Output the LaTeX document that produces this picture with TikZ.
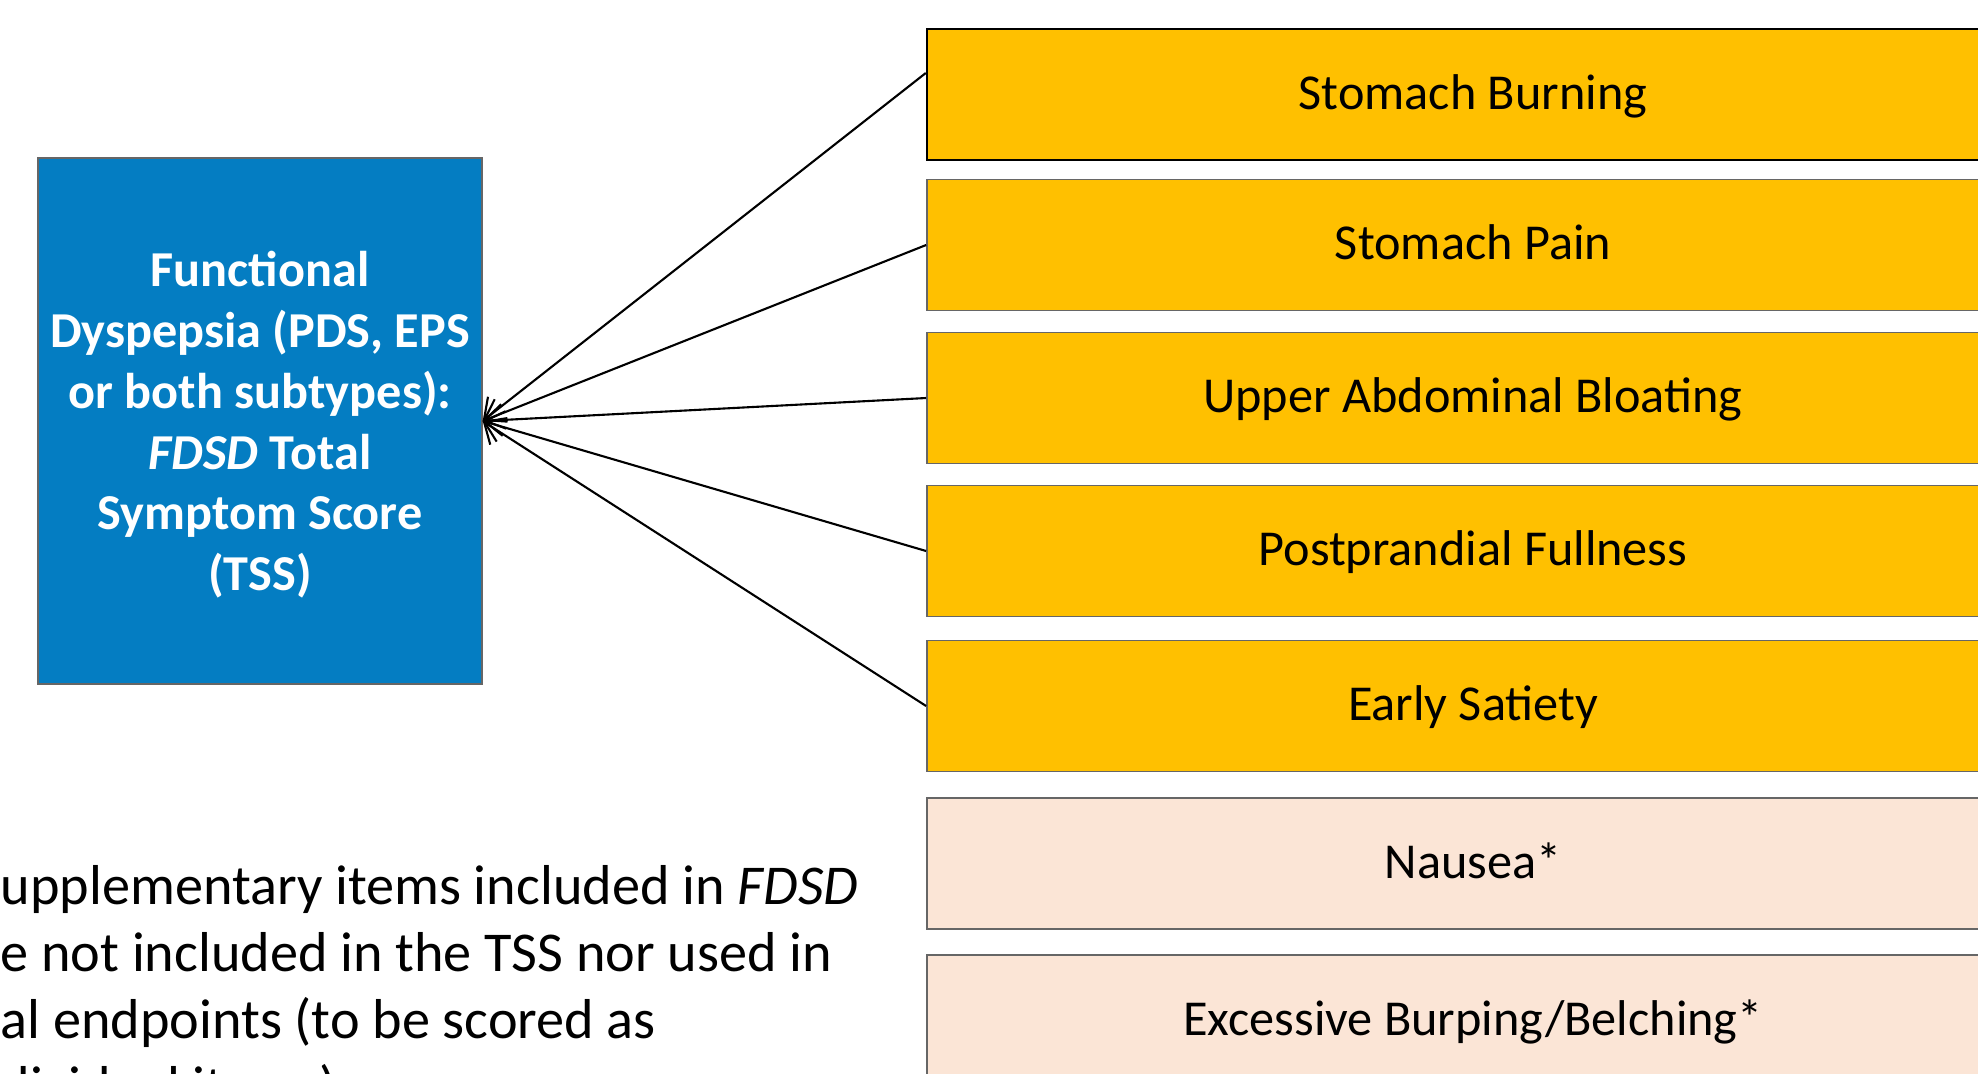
\documentclass[tikz,border=0pt]{standalone}
\usepackage{fontspec}
\setmainfont{Carlito}
\usetikzlibrary{positioning,arrows.meta}

\definecolor{fdblue}{RGB}{4,125,194}
\definecolor{fdgold}{RGB}{255,192,0}
\definecolor{fdpeach}{RGB}{251,229,214}

\tikzset{
	symptom/.style={draw=black!60, line width=0.5pt, fill=fdgold, minimum width=10.92cm, minimum height=1.31cm, inner sep=0pt, text depth=0.05cm, font=\fontsize{14.3}{17.3}\selectfont},
	suppl/.style={symptom, fill=fdpeach},
	total/.style={draw=black!60, line width=0.4pt, fill=fdblue, text=white, minimum width=4.44cm, minimum height=5.26cm, align=center, font=\fontsize{14.3}{17.3}\selectfont\bfseries},
	feeds/.style={-{Straight Barb[length=5pt,width=9pt]}, line width=0.6pt}
}

\begin{document}
\begin{tikzpicture}
	\useasboundingbox (0,0) rectangle (19.78,-10.73);
	\clip (0,0) rectangle (19.78,-10.73);

	\node[total] (tss) at (2.60,-4.21) {\\[-0.18cm]Functional\\Dyspepsia (PDS, EPS\\or both subtypes):\\\textit{FDSD} Total\\Symptom Score\\(TSS)};

	\node[symptom, draw=black, line width=0.7pt] (burn) at (14.73,-0.945) {Stomach Burning};
	\node[symptom] (pain)  at (14.73,-2.45)  {Stomach Pain};
	\node[symptom] (bloat) at (14.73,-3.98)  {Upper Abdominal Bloating};
	\node[symptom] (full)  at (14.73,-5.51)  {Postprandial Fullness};
	\node[symptom] (sati)  at (14.73,-7.06)  {Early Satiety};
	\node[suppl]   (naus)  at (14.73,-8.635) {Nausea*};
	\node[suppl]   (burp)  at (14.73,-10.205) {Excessive Burping/Belching*};

	\node[anchor=north west, inner sep=0pt, align=left, font=\fontsize{16}{19}\selectfont] (note) at (0,-8.65) {upplementary items included in \textit{FDSD}\\e not included in the TSS nor used in\\al endpoints (to be scored as\\dividual items)};

	\draw[feeds] ([yshift=0.215cm]burn.west) -- (tss.east);
	\draw[feeds] (pain.west)  -- (tss.east);
	\draw[feeds] (bloat.west) -- (tss.east);
	\draw[feeds] (full.west)  -- (tss.east);
	\draw[feeds] (sati.west)  -- (tss.east);
\end{tikzpicture}
\end{document}
